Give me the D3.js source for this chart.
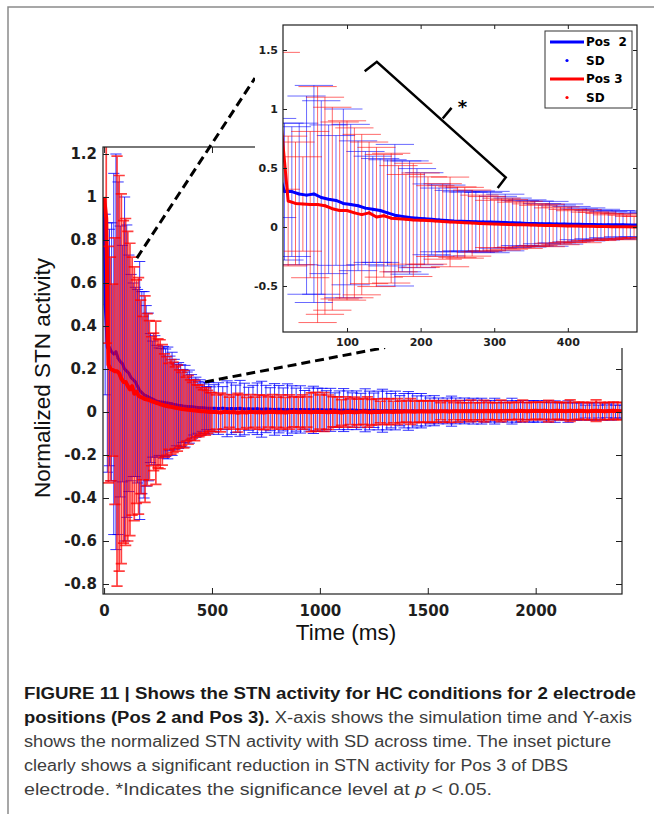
<!DOCTYPE html>
<html>
<head>
<meta charset="utf-8">
<script src="https://cdn.jsdelivr.net/npm/d3@7"></script>
<style>
  body { margin: 0; background: #fff; }
  text { white-space: pre; }
</style>
</head>
<body>
<svg id="fig" width="654" height="814"></svg>
<script>
// Pos 3 sample times (ms): every 10 ms up to 500, then every 20 ms
var timeMs = [0,
  10,20,30,40,50,60,70,80,90,100,110,120,130,140,150,160,170,180,190,200,
  210,220,230,240,250,260,270,280,290,300,310,320,330,340,350,360,370,380,390,400,
  410,420,430,440,450,460,470,480,490,500,
  520,540,560,580,600,620,640,660,680,700,720,740,760,780,800,820,840,860,880,900,920,940,960,980,1000,
  1020,1040,1060,1080,1100,1120,1140,1160,1180,1200,1220,1240,1260,1280,1300,1320,1340,1360,1380,1400,1420,1440,1460,1480,1500,
  1520,1540,1560,1580,1600,1620,1640,1660,1680,1700,1720,1740,1760,1780,1800,1820,1840,1860,1880,1900,1920,1940,1960,1980,2000,
  2020,2040,2060,2080,2100,2120,2140,2160,2180,2200,2220,2240,2260,2280,2300,2320,2340,2360,2380,2400];

// Pos 2 sample times (ms), sampled in between the Pos 3 ones
var pos2TimeMs = [0,
  5,15,25,35,45,55,65,75,85,95,105,115,125,135,145,155,165,175,185,195,
  205,215,225,235,245,255,265,275,285,295,305,315,325,335,345,355,365,375,385,395,
  405,415,425,435,445,455,465,475,485,495,
  510,530,550,570,590,610,630,650,670,690,710,730,750,770,790,810,830,850,870,890,910,930,950,970,990,
  1010,1030,1050,1070,1090,1110,1130,1150,1170,1190,1210,1230,1250,1270,1290,1310,1330,1350,1370,1390,1410,1430,1450,1470,1490,
  1510,1530,1550,1570,1590,1610,1630,1650,1670,1690,1710,1730,1750,1770,1790,1810,1830,1850,1870,1890,1910,1930,1950,1970,1990,
  2010,2030,2050,2070,2090,2110,2130,2150,2170,2190,2210,2230,2250,2270,2290,2310,2330,2350,2370,2390];

// Pos 2 (blue)
var pos2Mean = [1.0,
  0.50,0.30,0.30,0.28,0.27,0.28,0.25,0.235,0.225,0.20,
  0.19,0.18,0.16,0.15,0.14,0.12,0.10,0.09,0.08,0.075,
  0.07,0.065,0.06,0.055,0.05,0.048,0.046,0.045,0.043,0.042,
  0.04,0.038,0.035,0.033,0.03,0.03,0.028,0.027,0.026,0.025,
  0.024,0.023,0.022,0.021,0.02,0.02,0.019,0.018,0.017,0.017,
  0.017,0.016,0.018,0.015,0.016,0.015,0.017,0.014,0.015,0.014,0.015,0.013,0.014,0.013,0.012,0.013,0.012,0.011,0.012,0.011,0.012,0.010,0.011,0.010,0.011,
  0.010,0.009,0.010,0.009,0.008,0.009,0.008,0.009,0.008,0.007,0.008,0.007,0.008,0.007,0.006,0.007,0.006,0.007,0.006,0.006,0.005,0.006,0.005,0.006,0.005,
  0.005,0.006,0.005,0.004,0.005,0.004,0.005,0.004,0.005,0.004,0.004,0.005,0.004,0.003,0.004,0.004,0.003,0.004,0.003,0.004,0.003,0.003,0.004,0.003,0.003,
  0.003,0.004,0.003,0.003,0.002,0.003,0.003,0.002,0.003,0.002,0.003,0.002,0.002,0.003,0.002,0.002,0.003,0.002,0.002,0.002];
var pos2SD = [0,
  0.42,0.58,0.55,0.60,0.84,0.92,0.82,0.63,0.55,0.80,
  0.68,0.55,0.48,0.45,0.44,0.45,0.60,0.47,0.48,0.42,
  0.39,0.30,0.27,0.30,0.26,0.25,0.25,0.26,0.25,0.26,
  0.22,0.24,0.21,0.19,0.20,0.19,0.17,0.19,0.16,0.17,
  0.15,0.13,0.14,0.12,0.13,0.11,0.12,0.10,0.12,0.10,
  0.11,0.12,0.10,0.13,0.12,0.11,0.13,0.12,0.10,0.11,0.12,0.13,0.11,0.10,0.12,0.11,0.10,0.12,0.11,0.10,0.11,0.09,0.10,0.11,0.10,
  0.10,0.09,0.10,0.08,0.09,0.10,0.09,0.08,0.09,0.08,0.10,0.09,0.08,0.09,0.10,0.09,0.08,0.09,0.07,0.08,0.09,0.08,0.07,0.08,0.07,
  0.06,0.07,0.06,0.05,0.06,0.07,0.06,0.05,0.06,0.05,0.06,0.05,0.06,0.05,0.05,0.06,0.05,0.04,0.05,0.06,0.05,0.05,0.04,0.05,0.05,
  0.05,0.04,0.05,0.04,0.05,0.04,0.04,0.05,0.04,0.04,0.04,0.03,0.04,0.04,0.03,0.04,0.03,0.04,0.03,0.03];

// Pos 3 (red)
var pos3Mean = [1.0,
  0.90,0.22,0.20,0.195,0.19,0.19,0.18,0.155,0.14,0.14,
  0.12,0.105,0.12,0.085,0.095,0.075,0.07,0.065,0.06,0.058,
  0.055,0.05,0.047,0.043,0.04,0.036,0.033,0.03,0.028,0.026,
  0.024,0.022,0.02,0.018,0.016,0.014,0.013,0.012,0.01,0.009,
  0.008,0.007,0.006,0.005,0.004,0.003,0.002,0.001,0.0,0.0,
  0.0,-0.002,0.001,-0.001,0.0,-0.003,0.0,-0.002,0.001,-0.001,0.0,-0.002,0.0,0.001,-0.001,0.0,-0.002,0.0,0.001,-0.001,0.0,0.0,-0.001,0.001,0.0,
  0.0,-0.001,0.001,0.0,-0.002,0.0,0.001,-0.001,0.0,0.002,0.0,-0.001,0.001,0.0,0.002,0.001,0.0,0.002,0.001,0.003,0.002,0.001,0.003,0.002,0.002,
  0.003,0.002,0.004,0.003,0.002,0.004,0.003,0.004,0.003,0.005,0.004,0.003,0.004,0.005,0.004,0.003,0.005,0.004,0.005,0.004,0.006,0.005,0.004,0.005,0.006,
  0.005,0.006,0.004,0.005,0.006,0.005,0.004,0.006,0.005,0.006,0.005,0.004,0.005,0.006,0.005,0.004,0.005,0.006,0.005,0.004];
var pos3SD = [0,
  0.58,0.55,0.52,0.40,0.62,1.00,0.92,0.86,0.75,0.76,
  0.72,0.68,0.60,0.59,0.52,0.55,0.45,0.38,0.48,0.40,
  0.37,0.30,0.32,0.38,0.30,0.30,0.28,0.24,0.23,0.20,
  0.22,0.21,0.19,0.20,0.18,0.17,0.18,0.15,0.16,0.14,
  0.13,0.14,0.12,0.12,0.11,0.10,0.11,0.10,0.09,0.09,
  0.08,0.09,0.08,0.07,0.08,0.09,0.08,0.07,0.08,0.07,0.08,0.08,0.07,0.08,0.07,0.08,0.07,0.08,0.07,0.07,0.08,0.07,0.09,0.09,0.08,
  0.09,0.08,0.07,0.07,0.06,0.07,0.06,0.07,0.06,0.06,0.07,0.06,0.06,0.05,0.06,0.06,0.05,0.06,0.05,0.05,0.06,0.05,0.05,0.05,0.05,
  0.05,0.05,0.04,0.05,0.05,0.04,0.05,0.04,0.04,0.05,0.04,0.04,0.05,0.04,0.04,0.04,0.05,0.04,0.04,0.04,0.04,0.05,0.04,0.04,0.04,
  0.04,0.04,0.05,0.04,0.04,0.04,0.04,0.05,0.04,0.04,0.04,0.04,0.04,0.05,0.04,0.04,0.04,0.04,0.04,0.04];

var mainXTicks = [0, 500, 1000, 1500, 2000];
var mainYTicks = [-0.8, -0.6, -0.4, -0.2, 0, 0.2, 0.4, 0.6, 0.8, 1, 1.2];
var insetXTicks = [100, 200, 300, 400];
var insetYTicks = [-0.5, 0, 0.5, 1, 1.5];
var legendLabels = ["Pos  2", "SD", "Pos 3", "SD"];

// annotations, in data units
var zoomLinks = [[[152, 0.716], [699, 1.553]], [[468, 0.14], [1302, 0.30]]];
var bracketPts = [[124, 1.32], [140.5, 1.40], [315.6, 0.42], [304.7, 0.33]];
var bracketTick = [[230, 0.92], [242, 1.01]];
var starAt = [257, 1.04];

var captionLines = [
  [{t: "FIGURE 11 | Shows the STN activity for HC conditions for 2 electrode", b: true}],
  [{t: "positions (Pos 2 and Pos 3).", b: true}, {t: " X-axis shows the simulation time and Y-axis"}],
  [{t: "shows the normalized STN activity with SD across time. The inset picture"}],
  [{t: "clearly shows a significant reduction in STN activity for Pos 3 of DBS"}],
  [{t: "electrode. *Indicates the significance level at "}, {t: "p", i: true}, {t: " < 0.05."}]
];
var captionWidths = [612, 608, 587, 544, 468];

var svg = d3.select("#fig");
var tickFont = "DejaVu Sans";
var textFont = "Liberation Sans, Arial, sans-serif";
var blue = "#0000ff", red = "#ff0000";
var halfCap = 26;

var pos2 = pos2TimeMs.map((t, i) => ({t: t, m: pos2Mean[i], s: pos2SD[i]}));
var pos3 = timeMs.map((t, i) => ({t: t, m: pos3Mean[i], s: pos3SD[i]}));

var x = d3.scaleLinear().domain([-5, 2400]).range([103, 622]);
var y = d3.scaleLinear().domain([-0.8465, 1.2326]).range([594, 147]);
var xi = d3.scaleLinear().domain([13, 494]).range([283, 637]);
var yi = d3.scaleLinear().domain([-0.89, 1.712]).range([332, 25]);

var defs = svg.append("defs");
function clip(id, xs, ys) {
  defs.append("clipPath").attr("id", id).append("rect")
    .attr("x", xs.range()[0]).attr("y", ys.range()[1])
    .attr("width", xs.range()[1] - xs.range()[0]).attr("height", ys.range()[0] - ys.range()[1]);
}
clip("clipMain", x, y);
clip("clipInset", xi, yi);

// vertical SD bar with caps, plus a dot at the mean
function bars(g, xs, ys, data, color, op, w) {
  var pts = data.filter(d => d.s > 0);
  g.append("g").selectAll("path").data(pts).join("path")
    .attr("d", d => {
      var xl = xs(d.t - halfCap), xr = xs(d.t + halfCap), yt = ys(d.m + d.s), yb = ys(d.m - d.s);
      return "M" + xs(d.t) + "," + yt + "V" + yb + "M" + xl + "," + yt + "H" + xr + "M" + xl + "," + yb + "H" + xr;
    })
    .attr("fill", "none").attr("stroke", color).attr("stroke-opacity", op).attr("stroke-width", w);
  g.append("g").selectAll("circle").data(pts).join("circle")
    .attr("cx", d => xs(d.t)).attr("cy", d => ys(d.m)).attr("r", 1.3).attr("fill", color);
}

function meanLine(g, xs, ys, data, color, w) {
  g.append("path").datum(data)
    .attr("d", d3.line().x(d => xs(d.t)).y(d => ys(d.m)))
    .attr("fill", "none").attr("stroke", color).attr("stroke-width", w).attr("stroke-linejoin", "round");
}

function frame(xs, ys, xt, yt, len, fs, padX, padY) {
  var r = xs.range(), d = ys.range();
  var g = svg.append("g").style("color", "#1e1e1e");
  var fmt = v => String(v);
  var style = s => s.attr("font-family", tickFont).attr("font-weight", "bold").attr("font-size", fs)
    .call(a => a.select(".domain").remove());
  g.append("g").attr("transform", "translate(" + r[0] + ",0)")
    .call(d3.axisLeft(ys).tickValues(yt).tickSize(-len).tickPadding(padY).tickFormat(fmt)).call(style);
  g.append("g").attr("transform", "translate(0," + d[0] + ")")
    .call(d3.axisBottom(xs).tickValues(xt).tickSize(-len).tickPadding(padX).tickFormat(fmt)).call(style);
  g.append("g").attr("transform", "translate(" + r[1] + ",0)")
    .call(d3.axisRight(ys).tickValues(yt).tickSize(-len).tickFormat("")).call(style);
  g.append("g").attr("transform", "translate(0," + d[1] + ")")
    .call(d3.axisTop(xs).tickValues(xt).tickSize(-len).tickFormat("")).call(style);
  g.append("rect").attr("x", r[0]).attr("y", d[1]).attr("width", r[1] - r[0]).attr("height", d[0] - d[1])
    .attr("fill", "none").attr("stroke", "#1e1e1e").attr("stroke-width", 1.2);
}

// ---- main plot
var gm = svg.append("g").attr("clip-path", "url(#clipMain)");
bars(gm, x, y, pos2, blue, 0.8, 1);
meanLine(gm, x, y, pos2, blue, 3);
bars(gm, x, y, pos3, red, 0.75, 1.7);
meanLine(gm, x, y, pos3, red, 4);
frame(x, y, mainXTicks, mainYTicks, 6, 15, 11, 6);

svg.append("g").selectAll("line").data(zoomLinks).join("line")
  .attr("x1", d => x(d[0][0])).attr("y1", d => y(d[0][1]))
  .attr("x2", d => x(d[1][0])).attr("y2", d => y(d[1][1]))
  .attr("stroke", "#000").attr("stroke-width", 3).attr("stroke-dasharray", "9,5");

svg.append("text").attr("transform", "translate(50,378) rotate(-90)").attr("text-anchor", "middle")
  .attr("font-family", textFont).attr("font-size", 22.5).attr("fill", "#111").text("Normalized STN activity");
svg.append("text").attr("x", 346).attr("y", 640).attr("text-anchor", "middle")
  .attr("font-family", textFont).attr("font-size", 22.5).attr("fill", "#111").text("Time (ms)");

// ---- inset
svg.append("rect").attr("x", 255).attr("y", 9).attr("width", 399).attr("height", 339).attr("fill", "#fff");
var gi = svg.append("g").attr("clip-path", "url(#clipInset)");
bars(gi, xi, yi, pos2, blue, 0.65, 0.9);
bars(gi, xi, yi, pos3, red, 0.65, 0.9);
meanLine(gi, xi, yi, pos2, blue, 3);
meanLine(gi, xi, yi, pos3, red, 3);
frame(xi, yi, insetXTicks, insetYTicks, 4, 11, 6, 5);

svg.append("path").datum(bracketPts)
  .attr("d", d3.line().x(d => xi(d[0])).y(d => yi(d[1])))
  .attr("fill", "none").attr("stroke", "#000").attr("stroke-width", 2.5);
svg.append("path").datum(bracketTick)
  .attr("d", d3.line().x(d => xi(d[0])).y(d => yi(d[1])))
  .attr("fill", "none").attr("stroke", "#000").attr("stroke-width", 2.5);
svg.append("text").attr("x", xi(starAt[0])).attr("y", yi(starAt[1]) + 9).attr("text-anchor", "middle")
  .attr("font-family", tickFont).attr("font-weight", "bold").attr("font-size", 18).text("*");

var lg = svg.append("g");
lg.append("rect").attr("x", 545).attr("y", 31).attr("width", 87).attr("height", 77)
  .attr("fill", "#fff").attr("stroke", "#333");
legendLabels.forEach((lab, i) => {
  var cy = 42 + i * 18.5, col = i < 2 ? blue : red;
  if (i % 2 == 0) lg.append("line").attr("x1", 550).attr("x2", 584).attr("y1", cy).attr("y2", cy)
    .attr("stroke", col).attr("stroke-width", 3);
  else lg.append("circle").attr("cx", 567).attr("cy", cy).attr("r", 1.6).attr("fill", col);
  lg.append("text").attr("x", 586).attr("y", cy).attr("dy", "0.36em")
    .attr("font-family", tickFont).attr("font-weight", "bold").attr("font-size", 12).text(lab);
});

// ---- caption and outer frame
var capG = svg.append("g").attr("font-family", textFont).attr("font-size", 16);
captionLines.forEach((line, i) => {
  var tx = capG.append("text").attr("x", 24).attr("y", 699 + i * 24)
    .attr("textLength", captionWidths[i]).attr("lengthAdjust", "spacingAndGlyphs");
  line.forEach(p => tx.append("tspan").text(p.t)
    .attr("font-weight", p.b ? "bold" : null).attr("font-style", p.i ? "italic" : null)
    .attr("fill", p.b ? "#1a1a1a" : "#3d3d3d"));
});

svg.append("path").attr("d", "M8,814V7H654").attr("fill", "none").attr("stroke", "#8a8a8a").attr("stroke-width", 1.5);
</script>
</body>
</html>
